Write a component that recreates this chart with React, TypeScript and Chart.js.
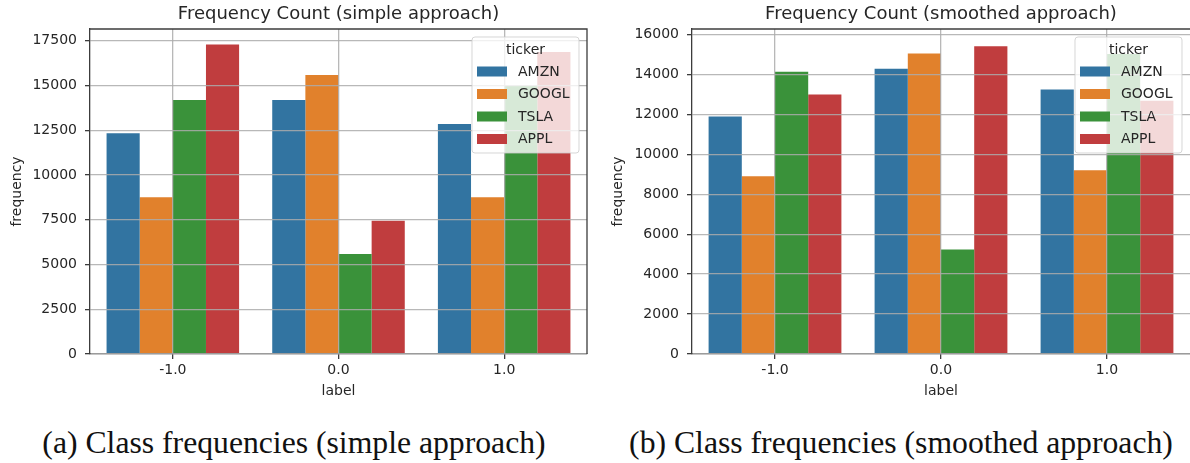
import React, { useEffect, useRef } from 'react';
import { Chart, registerables } from 'chart.js';

Chart.register(...registerables);

// ---------- data ----------
const categories = ['-1.0', '0.0', '1.0'];
const tickers = ['AMZN', 'GOOGL', 'TSLA', 'APPL'];

const simpleAMZN = [12330, 14180, 12840];
const simpleGOOGL = [8750, 15580, 8750];
const simpleTSLA = [14180, 5580, 14980];
const simpleAPPL = [17280, 7440, 16870];

const smoothAMZN = [11900, 14290, 13250];
const smoothGOOGL = [8910, 15050, 9210];
const smoothTSLA = [14140, 5240, 15030];
const smoothAPPL = [13000, 15410, 12690];

const simpleYTicks = [0, 2500, 5000, 7500, 10000, 12500, 15000, 17500];
const smoothYTicks = [0, 2000, 4000, 6000, 8000, 10000, 12000, 14000, 16000];
const simpleYMax = 18150;
const smoothYMax = 16280;

const simpleTitle = 'Frequency Count (simple approach)';
const smoothTitle = 'Frequency Count (smoothed approach)';
const xTitle = 'label';
const yTitle = 'frequency';
const legendTitle = 'ticker';
const captionA = '(a) Class frequencies (simple approach)';
const captionB = '(b) Class frequencies (smoothed approach)';

// ---------- style ----------
const COLORS = ['#3274a1', '#e1812c', '#3a923a', '#c03d3e'];
const FAMILY = "'DejaVu Sans', sans-serif";
const TEXT = '#262626';
const SPINE = '#3c3c3c';
const GRID = 'rgba(172,172,172,0.85)';

const framePlugin = {
  id: 'frame',
  afterDraw(chart: any) {
    const opts = chart.options.plugins.frame || {};
    const { ctx, chartArea: a } = chart;
    ctx.save();
    // title centred over the plot area
    ctx.font = `18px ${FAMILY}`;
    ctx.fillStyle = TEXT;
    ctx.textAlign = 'center';
    ctx.textBaseline = 'middle';
    ctx.fillText(opts.title || '', (a.left + a.right) / 2, a.top - 14.5);

    // top / right spines
    ctx.strokeStyle = SPINE;
    ctx.lineWidth = 1.3;
    ctx.beginPath();
    ctx.moveTo(a.left, a.top);
    ctx.lineTo(a.right, a.top);
    if (opts.rightSpine) ctx.lineTo(a.right, a.bottom);
    ctx.stroke();

    // legend
    const boxW = 107;
    const boxH = 116;
    const right = a.right - 8;
    const left = right - boxW;
    const top = a.top + 8;
    ctx.beginPath();
    if ((ctx as any).roundRect) (ctx as any).roundRect(left, top, boxW, boxH, 3);
    else ctx.rect(left, top, boxW, boxH);
    ctx.fillStyle = 'rgba(255,255,255,0.8)';
    ctx.fill();
    ctx.strokeStyle = 'rgba(204,204,204,0.8)';
    ctx.lineWidth = 1;
    ctx.stroke();

    ctx.font = `14px ${FAMILY}`;
    ctx.fillStyle = TEXT;
    ctx.textBaseline = 'middle';
    ctx.textAlign = 'center';
    ctx.fillText(legendTitle, left + boxW / 2, top + 13.5);
    ctx.textAlign = 'left';
    chart.data.datasets.forEach((ds: any, i: number) => {
      const cy = top + 34.5 + i * 22.5;
      ctx.fillStyle = ds.backgroundColor;
      ctx.fillRect(left + 5, cy - 5, 30, 10);
      ctx.fillStyle = TEXT;
      ctx.fillText(ds.label, left + 46, cy + 0.5);
    });
    ctx.restore();
  },
};

function makeConfig(
  title: string,
  series: number[][],
  yTicks: number[],
  yMax: number,
  yWidth: number,
  padRight: number,
  yTitlePad: number,
  rightSpine: boolean
): any {
  const font = { family: FAMILY, size: 14 };
  return {
    type: 'bar',
    data: {
      labels: categories,
      datasets: tickers.map((t, i) => ({
        label: t,
        data: series[i],
        backgroundColor: COLORS[i],
        borderWidth: 0,
        categoryPercentage: 0.8,
        barPercentage: 1.0,
      })),
    },
    options: {
      animation: false,
      responsive: false,
      events: [],
      layout: { padding: { left: 0, right: padRight, top: 29, bottom: 0 } },
      plugins: {
        legend: { display: false },
        tooltip: { enabled: false },
        title: { display: false },
        frame: { rightSpine, title },
      },
      scales: {
        x: {
          type: 'category',
          offset: true,
          grid: {
            offset: false,
            color: GRID,
            lineWidth: 1.3,
            z: 1,
            tickLength: 5,
            tickColor: SPINE,
            tickWidth: 1.3,
          },
          border: { display: true, color: SPINE, width: 1.3, z: 1 },
          ticks: { font, color: TEXT, padding: 3 },
          title: {
            display: true,
            text: xTitle,
            color: TEXT,
            font,
            padding: { top: 0, bottom: 10 },
          },
          afterFit: (s: any) => {
            s.height = 56;
          },
        },
        y: {
          min: 0,
          max: yMax,
          afterBuildTicks: (s: any) => {
            s.ticks = yTicks.map((v) => ({ value: v }));
          },
          grid: {
            color: GRID,
            lineWidth: 1.3,
            z: 1,
            tickLength: 5,
            tickColor: SPINE,
            tickWidth: 1.3,
          },
          border: { display: true, color: SPINE, width: 1.3, z: 1 },
          ticks: {
            font,
            color: TEXT,
            padding: 8,
            callback: (v: any) => String(v),
          },
          title: {
            display: true,
            text: yTitle,
            color: TEXT,
            font,
            padding: { top: yTitlePad, bottom: 0 },
          },
          afterFit: (s: any) => {
            s.width = yWidth;
          },
        },
      },
    },
    plugins: [framePlugin],
  };
}

function BarChart(props: { config: any; left: number }) {
  const ref = useRef<HTMLCanvasElement | null>(null);
  useEffect(() => {
    if (!ref.current) return;
    const chart = new Chart(ref.current, props.config);
    return () => chart.destroy();
  }, []);
  return (
    <canvas
      ref={ref}
      width={595}
      height={410}
      style={{ position: 'absolute', left: props.left, top: 0, width: 595, height: 410 }}
    />
  );
}

export default function App() {
  const simpleCfg = makeConfig(
    simpleTitle,
    [simpleAMZN, simpleGOOGL, simpleTSLA, simpleAPPL],
    simpleYTicks,
    simpleYMax,
    90,
    8,
    8.6,
    true
  );
  const smoothCfg = makeConfig(
    smoothTitle,
    [smoothAMZN, smoothGOOGL, smoothTSLA, smoothAPPL],
    smoothYTicks,
    smoothYMax,
    97,
    0,
    14.6,
    false
  );
  const capStyle: React.CSSProperties = {
    position: 'absolute',
    top: 427,
    width: 600,
    textAlign: 'center',
    fontFamily: "'Liberation Serif', serif",
    fontSize: 31.7,
    lineHeight: '32px',
    color: '#111',
    whiteSpace: 'nowrap',
  };
  return (
    <div
      style={{
        position: 'absolute',
        left: 0,
        top: 0,
        width: 1190,
        height: 463,
        background: '#fff',
        overflow: 'hidden',
      }}
    >
      <BarChart config={simpleCfg} left={0} />
      <BarChart config={smoothCfg} left={595} />
      <div style={{ ...capStyle, left: 294 - 300 }}>{captionA}</div>
      <div style={{ ...capStyle, left: 901 - 300 }}>{captionB}</div>
    </div>
  );
}
